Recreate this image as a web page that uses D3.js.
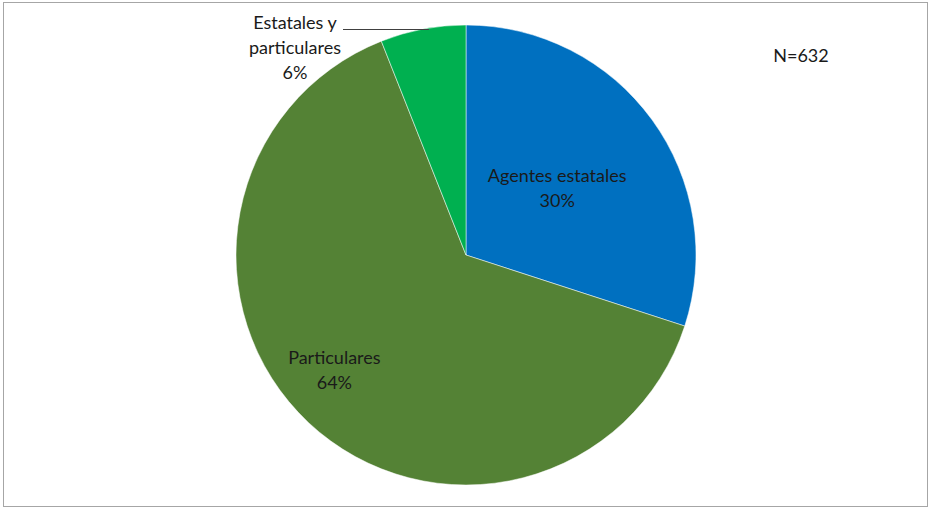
<!DOCTYPE html>
<html>
<head>
<meta charset="utf-8">
<script src="https://cdn.jsdelivr.net/npm/d3@7"></script>
<style>
  html, body { margin: 0; padding: 0; background: #fff; }
  svg text { font-family: Lato, "Open Sans", sans-serif; font-size: 18px; fill: #1a1a1a; }
</style>
</head>
<body>
<svg id="chart" width="929" height="508"></svg>
<script>
// Categories and their shares (%) of the 632 cases
const categories = ["Agentes estatales", "Particulares", "Estatales y particulares"];
const shares = [30, 64, 6];
const labelLines = [["Agentes estatales", "30%"], ["Particulares", "64%"], ["Estatales y", "particulares", "6%"]];
const colors = ["#0070C0", "#548235", "#00B050"];
const totalLabel = "N=632";

const svg = d3.select("#chart");
const W = 929, H = 508;

// Outer frame
svg.append("rect")
  .attr("x", 3.5).attr("y", 2.5)
  .attr("width", W - 5).attr("height", H - 4)
  .attr("fill", "#fff").attr("stroke", "#a6a6a6").attr("stroke-width", 1);

const cx = 466, cy = 255, R = 230;

const data = categories.map((c, i) => ({ name: c, value: shares[i], lines: labelLines[i], color: colors[i] }));
const pie = d3.pie().value(d => d.value).sort(null);
const arcs = pie(data);
const arc = d3.arc().innerRadius(0).outerRadius(R);

const g = svg.append("g").attr("transform", `translate(${cx},${cy})`);
g.selectAll("path.slice").data(arcs).join("path")
  .attr("class", "slice")
  .attr("d", arc)
  .attr("fill", d => d.data.color)
  .attr("stroke", "#fff").attr("stroke-width", 0.5);

// Inside labels for the two large slices, each at its own radial distance plus a small nudge
const labelRadius = [0.49, 0.76];
const labelNudge = [[0, 0], [-12, -12]];
const lineH = 25;
arcs.slice(0, 2).forEach((a, i) => {
  const r = R * labelRadius[i];
  const c = d3.arc().innerRadius(r).outerRadius(r).centroid(a);
  const x = c[0] + labelNudge[i][0], y = c[1] + labelNudge[i][1];
  const t = g.append("text").attr("text-anchor", "middle");
  a.data.lines.forEach((ln, k) => {
    t.append("tspan").attr("x", x).attr("y", y + (k - (a.data.lines.length - 1) / 2) * lineH + 6).text(ln);
  });
});

// Outside label with leader line for the small slice
const small = arcs[2];
const edge = d3.arc().innerRadius(R).outerRadius(R).centroid(small);
const lx = 295, ly0 = 29;
svg.append("path")
  .attr("d", `M${lx + 48},${ly0 + 0.5}H${cx + edge[0] + 6}`)
  .attr("stroke", "#404040").attr("stroke-width", 1).attr("fill", "none");
const t3 = svg.append("text").attr("text-anchor", "middle");
small.data.lines.forEach((ln, k) => {
  t3.append("tspan").attr("x", lx).attr("y", ly0 + k * lineH).text(ln);
});

// Total count
svg.append("text").attr("x", 801).attr("y", 62).attr("text-anchor", "middle").text(totalLabel);
</script>
</body>
</html>
